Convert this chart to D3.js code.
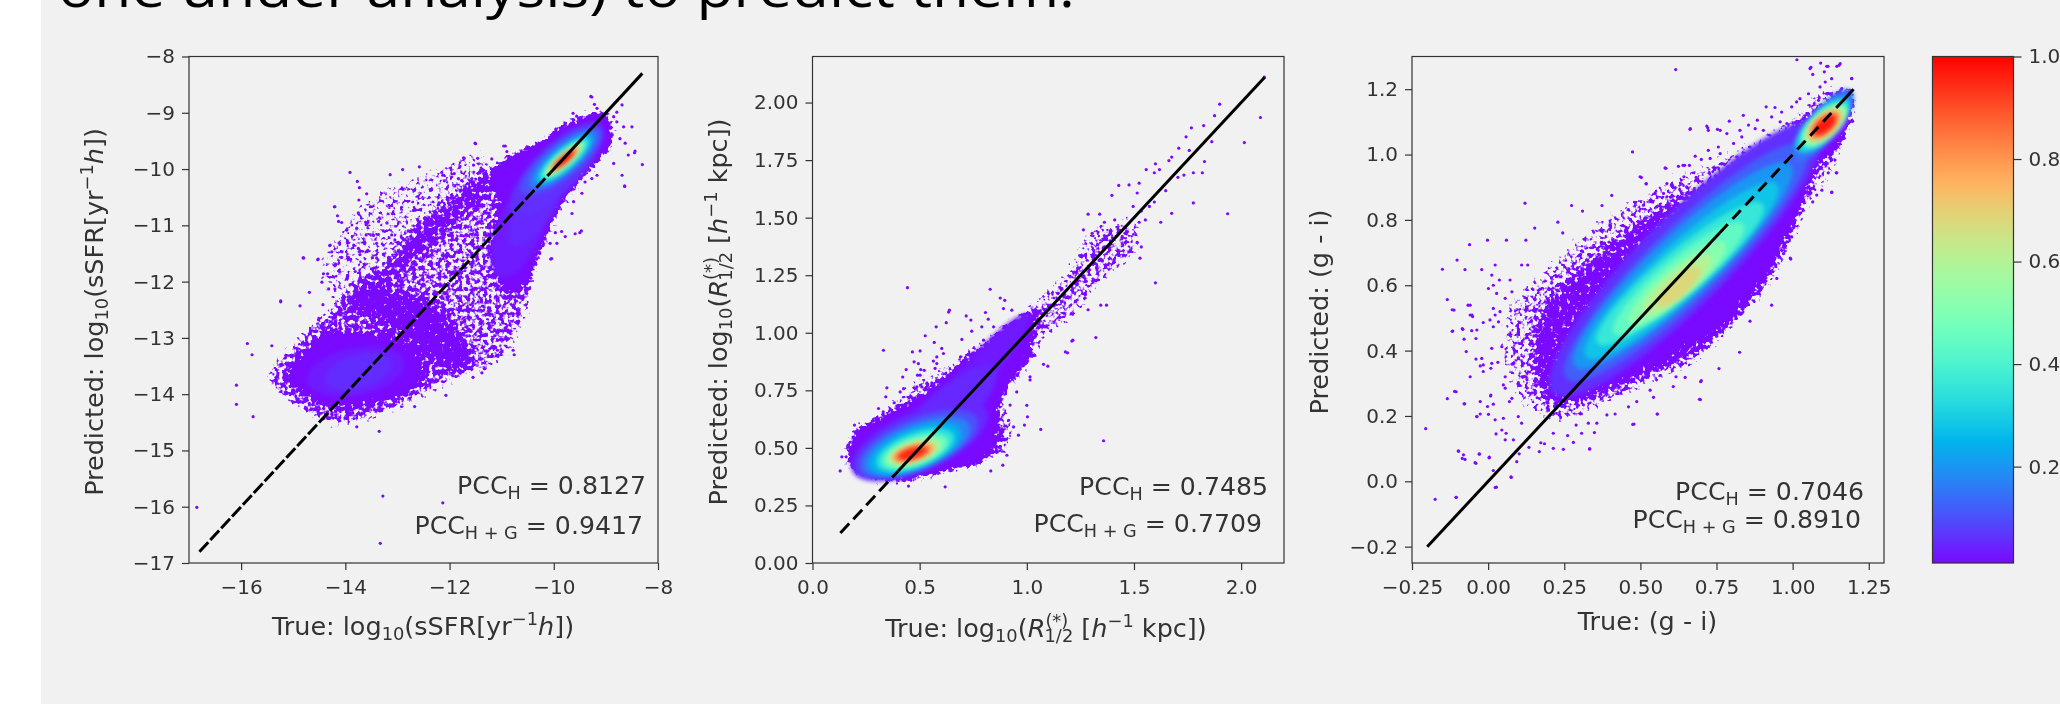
<!DOCTYPE html>
<html><head><meta charset="utf-8">
<script src="https://cdn.jsdelivr.net/npm/d3@7"></script>
<style>html,body{margin:0;padding:0;background:#fff;overflow:hidden}svg{display:block}text{font-family:"DejaVu Sans";fill:#333}</style>
</head><body><svg id="c" width="2060" height="704"></svg>
<script>
// ---- axis domains, ticks
const headline="one under analysis) to predict them.";
const ssfrTicksX=[-16,-14,-12,-10,-8], ssfrTicksY=[-17,-16,-15,-14,-13,-12,-11,-10,-9,-8];
const sizeTicksX=[0,0.5,1,1.5,2], sizeTicksY=[0,0.25,0.5,0.75,1,1.25,1.5,1.75,2];
const colorTicksX=[-0.25,0,0.25,0.5,0.75,1,1.25], colorTicksY=[-0.2,0,0.2,0.4,0.6,0.8,1,1.2];
const barTicks=[0.2,0.4,0.6,0.8,1];
const ssfrPcc=["0.8127","0.9417"], sizePcc=["0.7485","0.7709"], colorPcc=["0.7046","0.8910"];
// ---- scatter points (x,y, flat)
const ssfrPoints=[-13.91,-10.06,-13.77,-10.22,-13.73,-10.33,-13.59,-10.44,-13.74,-10.55,-14.2,-10.67,-13.52,-10.67,-13.75,-10.78,-14.15,-10.83,-14.13,-10.93,-14.07,-10.95,-13.36,-10.93,-13.2,-10.96,-13.6,-10.99,-13.78,-11.05,-13.97,-11.08,-13.27,-11.1,-13.46,-11.18,-13.6,-11.17,-13.11,-11.17,-13.05,-11.26,-14.29,-11.35,-13.84,-11.35,-13.75,-11.41,-13.4,-11.32,-13.27,-11.35,-14.26,-11.47,-14.8,-11.58,-14.52,-11.6,-14.07,-11.57,-13.94,-11.57,-13.72,-11.52,-13.4,-11.58,-13.27,-11.51,-13.17,-11.57,-12.95,-11.52,-14.42,-11.86,-14.34,-11.86,-13.81,-11.82,-13.43,-11.85,-13.27,-11.86,-13.09,-11.79,-13.97,-11.94,-14.45,-12.01,-14.32,-12.13,-14.2,-12.13,-13.49,-12.03,-13.27,-12.0,-14.69,-12.19,-15.24,-12.34,-14.87,-12.43,-14.43,-12.41,
-16.85,-16.01,-13.28,-15.81,-12.13,-15.93,-13.33,-16.65,-16.09,-13.84,-16.09,-14.18,-15.77,-14.4,-15.88,-13.1,-15.79,-13.3,-15.41,-13.14,-15.24,-12.36,-14.81,-11.58,-14.53,-11.61,-14.3,-11.36,-14.21,-10.67,-9.5,-11.13,-10.06,-11.6,-10.44,-11.94,-8.3,-9.92,-8.64,-10.31,-8.45,-9.71,-9.29,-8.71,
-9.27,-8.72,-9.22,-8.85,-9.17,-8.92,-9.63,-9.01,-9.56,-9.06,-8.69,-8.86,-8.79,-8.99,-8.5,-9.25,-8.66,-9.25,-8.79,-9.16,-8.85,-9.07,-8.63,-9.54,-8.44,-9.68,-8.57,-9.75,-8.73,-9.46,-8.85,-9.9,-8.69,-10.11,-8.64,-10.3,-11.51,-9.54,-10.93,-9.59,-10.9,-9.69,-11.72,-9.81,-11.46,-9.81,-11.19,-9.82,-11.54,-9.93,-11.35,-10.02,-11.91,-10.08,-12.13,-10.11,-12.1,-10.21,-11.83,-10.17,-11.57,-10.17,-11.9,-10.3,-11.7,-10.32,-11.45,-10.26,-11.35,-10.38,-9.17,-10.11,-9.27,-10.17,-9.4,-10.23,-9.46,-10.43,-9.62,-10.58,-9.65,-10.79,-9.47,-11.1,-9.59,-11.15,-9.78,-11.2,-9.85,-11.11,-9.97,-11.13,-9.94,-11.32,-10.07,-11.32,-10.04,-11.59,-10.2,-11.35,-10.27,-11.5,-10.33,-11.6,-10.52,-12.21,
-10.87,-12.9,-11.08,-13.22,-10.78,-13.22,-10.76,-13.3,-11.38,-13.62,-11.55,-13.7,-12.07,-14.02,-12.67,-14.22,-13.35,-14.66,-13.78,-14.58,-12.9,-10.01,-12.58,-9.96,-13.14,-10.1,-11.73,-9.8,-11.5,-9.55,-10.96,-9.59];
const sizePoints=[0.443,1.196,0.829,1.189,0.876,1.151,0.897,1.141,0.639,1.098,0.635,1.09,0.717,1.073,0.739,1.055,0.82,1.059,0.807,1.088,0.891,1.105,0.93,1.098,0.577,1.026,0.624,1.044,0.743,1.007,0.79,1.026,0.845,1.026,0.526,0.987,0.568,0.958,0.697,0.971,0.798,0.968,0.331,0.924,0.466,0.917,0.502,0.921,0.603,0.932,0.611,0.91,0.58,0.895,0.564,0.877,0.474,0.874,0.494,0.866,0.505,0.84,0.521,0.837,0.502,0.816,0.49,0.816,0.572,0.845,0.58,0.866,0.437,0.84,0.421,0.808,0.347,0.761,0.342,0.722,0.487,0.765,0.51,0.765,0.533,0.78,0.557,0.782,0.409,0.743,0.425,0.757,0.381,0.696,0.308,0.671,0.33,0.657,
1.0,0.685,1.003,0.635,0.989,0.599,1.065,0.58,1.358,0.531,1.322,0.979,1.19,0.913,1.215,0.968,1.098,0.855,1.078,0.863,1.015,0.809,1.015,0.795,0.953,0.743,0.922,0.686,0.915,0.62,0.938,0.591,0.961,0.555,0.907,0.468,0.888,0.425,0.832,0.4,0.619,0.331,0.448,0.334,0.137,0.461,0.157,0.461,0.129,0.4,0.196,0.599,
2.108,2.11,2.09,1.935,2.015,1.826,1.9,1.993,1.876,1.943,1.825,1.9,1.863,1.83,1.768,1.89,1.743,1.851,1.709,1.802,1.758,1.792,1.829,1.744,1.819,1.695,1.777,1.695,1.733,1.685,1.705,1.675,1.676,1.763,1.663,1.748,1.6,1.734,1.619,1.709,1.595,1.695,1.557,1.709,1.524,1.65,1.477,1.642,1.429,1.64,1.397,1.597,1.515,1.607,1.648,1.617,1.777,1.564,1.937,1.517,1.676,1.519,1.625,1.48,1.595,1.568,1.572,1.549,1.534,1.529,1.496,1.549,1.553,1.49,1.524,1.48,1.286,1.515,1.34,1.515,1.362,1.48,1.41,1.49,1.264,1.447,1.305,1.432,1.362,1.422,1.4,1.412,1.458,1.432,1.515,1.393,1.534,1.373,1.528,1.324,1.6,1.217,1.372,1.12,1.345,1.12,1.286,1.1,1.21,0.964,1.18,0.917];
const colorPoints=[-0.076,0.648,-0.021,0.648,0.012,0.631,0.072,0.616,0.11,0.662,0.13,0.662,0.023,0.662,0.001,0.59,0.017,0.6,0.037,0.616,0.028,0.575,0.078,0.58,0.056,0.56,-0.059,0.539,-0.112,0.524,-0.059,0.509,-0.051,0.504,0.017,0.529,0.039,0.519,0.023,0.509,0.006,0.494,-0.016,0.486,0.034,0.488,0.017,0.473,-0.037,0.463,-0.116,0.46,-0.083,0.465,-0.079,0.435,-0.04,0.437,-0.054,0.461,0.045,0.412,0.012,0.407,-0.072,0.397,-0.04,0.374,-0.021,0.376,-0.016,0.356,-0.026,0.353,0.012,0.361,0.032,0.364,0.009,0.346,-0.016,0.336,-0.059,0.32,0.05,0.295,0.056,0.32,0.056,0.285,-0.105,0.274,0.009,0.264,-0.079,0.237,-0.026,0.244,0.017,0.236,-0.002,0.229,0.07,0.244,0.078,0.254,-0.026,0.206,-0.037,0.198,0.001,0.205,0.023,0.188,0.05,0.193,0.099,0.198,0.11,0.178,0.045,0.157,0.059,0.147,0.026,0.145,0.056,0.127,0.083,0.127,-0.098,0.093,-0.081,0.081,-0.076,0.067,-0.029,0.084,-0.043,0.057,0.004,0.074,0.017,0.033,0.075,0.014,0.023,-0.019,-0.105,-0.049,0.094,0.06,0.102,0.084,0.134,0.104,0.168,0.091,0.173,0.118,0.185,0.115,0.214,0.147,0.214,0.101,0.247,0.098,0.28,0.119,0.261,0.14,0.333,0.099,0.307,0.147,0.349,0.149,0.289,0.172,0.357,0.178,0.329,0.178,0.475,0.174,0.556,0.206,0.694,0.251,0.417,0.206,0.39,0.203,0.313,0.234,0.461,0.228,0.488,0.244,0.543,0.257,0.608,0.29,0.532,0.279,0.647,0.318,0.698,0.305,0.617,0.32,
-0.205,0.161,-0.174,-0.055,-0.105,-0.049,-0.097,0.092,-0.085,0.07,-0.04,0.055,-0.029,0.083,0.003,0.072,0.027,-0.018,0.076,0.012,-0.134,0.253,-0.11,0.275,-0.077,0.237,-0.037,0.198,0.008,0.261,-0.15,0.649,-0.102,0.677,-0.134,0.556,-0.118,0.525,-0.118,0.459,-0.085,0.467,-0.066,0.539,-0.053,0.509,-0.061,0.724,-0.002,0.738,0.06,0.738,0.121,0.851,0.153,0.775,0.124,0.738,0.229,0.793,0.245,0.76,0.274,0.844,0.31,0.827,0.374,0.844,0.406,0.875,0.474,1.008,0.616,1.26,1.014,1.29,1.092,1.28,1.152,1.273,1.116,1.27,1.06,1.267,1.194,1.233,1.197,1.102,0.664,1.079,0.721,1.082,0.753,1.077,0.584,0.958,0.64,0.967,0.503,0.93,0.519,0.91,1.129,0.885,1.143,0.944,1.06,0.882,0.992,0.683,0.931,0.539,0.86,0.49,0.826,0.395,0.758,0.345,0.697,0.25,0.7,0.308,0.555,0.206,0.479,0.175,0.334,0.099,
0.663,1.077,0.718,1.087,0.723,1.074,0.762,1.074,0.792,1.102,0.838,1.12,0.884,1.105,0.913,1.146,0.942,1.144,0.964,1.13,0.997,1.146,1.013,1.161,1.024,1.171,1.052,1.186,1.09,1.207,1.107,1.222,1.128,1.232,1.156,1.278,1.145,1.27,1.112,1.27,1.057,1.263,1.066,1.245,1.104,1.253,1.194,1.232,1.194,1.102,1.161,1.202,1.112,1.186,1.085,1.166,0.981,1.095,0.959,1.1,0.931,1.115,0.904,1.074,0.877,1.079,0.855,1.09,0.827,1.074,0.833,1.054,0.806,1.034,0.784,1.064,0.756,1.023,0.762,1.003,0.723,1.013,0.729,0.988,0.68,0.995,0.7,0.985,0.625,0.964,0.645,0.967,0.661,0.967,0.581,0.959,0.767,0.972,0.643,0.932,0.683,0.93,0.519,0.911,0.587,0.911,0.614,0.899,0.532,0.86,0.548,0.881,0.499,0.932,0.51,0.845,0.576,0.881,0.598,0.87,0.636,0.881,0.652,0.901,0.7,0.901,0.723,0.911,0.751,0.932,0.789,0.962,0.816,0.993,0.86,0.983,0.888,1.003,0.915,0.993,0.795,0.932,0.827,0.962,0.871,0.942,0.91,1.034,0.86,1.023,
1.145,0.944,1.117,0.944,1.128,0.884,1.096,0.891,1.079,0.876,1.066,0.855,1.024,0.835,1.008,0.799,1.003,0.777,0.997,0.748,0.994,0.68,0.97,0.697,0.948,0.621,1.139,0.983,1.112,0.972,1.145,1.023,1.068,0.932,1.046,0.921,1.052,0.901,1.024,0.891,0.992,0.86,0.981,0.82,0.959,0.748,0.981,0.733,0.937,0.707,0.937,0.789];
// ---- outlines of the crowded regions, each with how thickly the dots fill it (first number)
const ssfrClouds=[
[0.4,[[-14.5,-11.9],[-14.1,-11],[-13.4,-10.4],[-12.4,-10],[-11.4,-9.7],[-11.2,-10.3],[-12,-11],[-13,-11.9],[-13.9,-12.6]]],
[0.5,[[-13.9,-12.2],[-13.2,-11.7],[-12.6,-11.0],[-11.9,-10.5],[-11.2,-10.0],[-10.7,-10.2],[-10.4,-12],[-10.7,-13],[-11.3,-13.6],[-12.2,-13.5],[-13,-12.9]]],
[0.54,[[-15.5,-13.7],[-15,-13.1],[-14.5,-12.6],[-13.5,-12.2],[-12.5,-12.3],[-11.9,-12.8],[-11.6,-13.5],[-12.2,-13.9],[-13.2,-14.35],[-14.2,-14.55],[-15,-14.2]]],
[1,[[-14.93,-13.45],[-14.35,-12.98],[-13.47,-12.98],[-12.95,-13.15],[-12.5,-13.57],[-12.82,-13.92],[-13.47,-14.1],[-14.1,-14.2],[-14.74,-13.98],[-15.06,-13.69]]],
[1,[[-8.98,-9.0],[-8.9,-9.2],[-8.86,-9.48],[-9.11,-9.84],[-9.44,-10.14],[-9.69,-10.43],[-9.94,-10.78],[-10.07,-11.08],[-10.26,-11.44],[-10.45,-11.9],[-10.8,-12.2],[-11.1,-11.8],[-11.1,-11.2],[-11.0,-10.6],[-11.15,-10.0],[-10.65,-9.66],[-10.26,-9.52],[-9.88,-9.25],[-9.5,-9.07],[-9.17,-9.0]]]];
const sizeClouds=[
[0.47,[[0.95,1.03],[1.05,1.15],[1.18,1.27],[1.3,1.45],[1.42,1.48],[1.5,1.5],[1.52,1.35],[1.4,1.25],[1.3,1.15],[1.2,1.05],[1.1,0.98],[1.0,0.88],[0.92,0.78]]],
[0.54,[[0.8,0.45],[0.92,0.5],[0.93,0.6],[0.9,0.72],[0.95,0.8],[1.05,0.9],[0.95,0.95],[0.8,0.8],[0.75,0.6]]],
[0.42,[[0.3,0.63],[0.42,0.75],[0.55,0.85],[0.62,0.85],[0.75,0.95],[0.8,0.9],[0.55,0.7]]],
[1,[[0.16,0.46],[0.19,0.564],[0.285,0.62],[0.41,0.664],[0.534,0.737],[0.642,0.824],[0.75,0.91],[0.86,1.0],[0.97,1.07],[1.04,1.1],[1.02,1.0],[0.97,0.87],[0.88,0.74],[0.84,0.64],[0.85,0.55],[0.8,0.45],[0.78,0.434],[0.595,0.39],[0.44,0.36],[0.315,0.36],[0.22,0.39],[0.175,0.417]]]];
const colorClouds=[
[0.44,[[0.13,0.22],[0.05,0.36],[0.07,0.55],[0.15,0.62],[0.3,0.75],[0.45,0.85],[0.65,0.95],[0.85,1.03],[1.0,1.12],[1.1,1.2],[1.2,1.2],[1.16,1.0],[1.05,0.83],[0.98,0.68],[0.9,0.57],[0.8,0.47],[0.7,0.37],[0.55,0.3],[0.4,0.24],[0.25,0.18]]],
[0.52,[[0.2,0.25],[0.15,0.4],[0.2,0.55],[0.35,0.68],[0.55,0.82],[0.75,0.92],[0.95,1.03],[1.1,1.15],[1.15,1.1],[1.0,0.85],[0.92,0.62],[0.75,0.44],[0.55,0.34],[0.35,0.26]]],
[1,[[0.253,0.264],[0.318,0.429],[0.35,0.539],[0.447,0.635],[0.576,0.759],[0.689,0.841],[0.786,0.896],[0.898,0.951],[1.011,1.047],[1.092,1.116],[1.156,1.185],[1.197,1.185],[1.189,1.116],[1.148,1.033],[1.076,0.965],[1.043,0.896],[1.011,0.814],[0.963,0.731],[0.914,0.662],[0.834,0.566],[0.753,0.484],[0.656,0.429],[0.544,0.374],[0.414,0.319],[0.318,0.291]]]];
// ---- density blobs: [cx, cy, half length, half width, tilt in degrees, colour value]
const ssfrBlobs=[[-13.8,-13.6,0.95,0.42,10,0.035],[-13.75,-13.6,0.65,0.3,15,0.055],[-10.65,-11.05,0.95,0.42,65,0.035],[-10.35,-10.7,0.8,0.32,55,0.05],[-9.95,-10.0,1.15,0.42,42,0.06],[-9.85,-9.85,0.95,0.32,36,0.1],[-9.82,-9.83,0.8,0.26,37,0.16],[-9.8,-9.83,0.68,0.22,38,0.24],[-9.8,-9.83,0.6,0.185,38,0.32],[-9.8,-9.83,0.52,0.155,38,0.42],[-9.8,-9.83,0.46,0.13,38,0.52],[-9.8,-9.83,0.41,0.11,38,0.62],[-9.8,-9.83,0.36,0.09,38,0.72],[-9.8,-9.83,0.31,0.075,38,0.82],[-9.8,-9.83,0.26,0.06,38,0.92],[-9.8,-9.83,0.2,0.045,38,1.0]];
const sizeBlobs=[[0.75,0.8,0.38,0.07,47,0.03],[0.62,0.65,0.3,0.1,40,0.05],[0.5,0.53,0.34,0.13,22,0.05],[0.49,0.515,0.3,0.115,21,0.1],[0.485,0.505,0.265,0.1,20,0.17],[0.48,0.495,0.225,0.09,20,0.25],[0.48,0.49,0.19,0.075,19,0.35],[0.48,0.485,0.16,0.062,18,0.45],[0.475,0.482,0.135,0.052,17,0.55],[0.472,0.48,0.115,0.045,16,0.65],[0.47,0.478,0.1,0.037,15,0.75],[0.468,0.477,0.085,0.03,15,0.85],[0.465,0.476,0.065,0.023,15,0.95]];
const colorBlobs=[[0.65,0.68,0.6,0.14,43,0.06],[0.65,0.67,0.53,0.115,42,0.12],[0.64,0.66,0.47,0.098,41,0.2],[0.635,0.645,0.41,0.083,40,0.28],[0.63,0.635,0.345,0.07,38,0.36],[0.625,0.62,0.27,0.06,38,0.44],[0.62,0.605,0.2,0.05,38,0.52],[0.62,0.6,0.14,0.04,38,0.6],[0.625,0.595,0.09,0.03,40,0.68],[1.1,1.09,0.14,0.05,48,0.15],[1.1,1.09,0.115,0.048,42,0.3],[1.105,1.09,0.095,0.045,40,0.42],[1.105,1.09,0.085,0.04,38,0.55],[1.105,1.09,0.07,0.036,38,0.68],[1.105,1.09,0.06,0.03,38,0.78],[1.105,1.09,0.05,0.024,38,0.88],[1.105,1.09,0.04,0.018,38,0.97]];
// ---- reference line pieces: [from, to, dashed?]
const ssfrLine=[[-16.8,-10.06,1],[-10.06,-8.3,0]];
const sizeLine=[[0.13,0.4,1],[0.4,2.11,0]];
const colorLine=[[-0.2,0.76,0],[0.76,1.145,1],[1.145,1.2,0]];

// ---- matplotlib "rainbow" colormap
const rainbow=t=>{const c=v=>Math.round(255*Math.min(1,Math.max(0,v)));return `rgb(${c(Math.abs(2*t-0.5))},${c(Math.sin(Math.PI*t))},${c(Math.cos(Math.PI*t/2))})`;};
const svg=d3.select("#c");
const defs=svg.append("defs");
const full=(id)=>defs.append("filter").attr("id",id).attr("filterUnits","userSpaceOnUse").attr("x",0).attr("y",0).attr("width",2060).attr("height",704).attr("color-interpolation-filters","sRGB");
full("soft").append("feGaussianBlur").attr("stdDeviation",0.6);
full("blur").append("feGaussianBlur").attr("stdDeviation",2.2);
// dotted texture for the crowded regions: the thicker the outline's fill, the more of it is covered
const sp=full("speck");
sp.append("feGaussianBlur").attr("in","SourceAlpha").attr("stdDeviation",5).attr("result","a");
sp.append("feTurbulence").attr("type","fractalNoise").attr("baseFrequency",0.24).attr("numOctaves",2).attr("seed",7).attr("result","t");
sp.append("feColorMatrix").attr("in","t").attr("values","0 0 0 0 0 0 0 0 0 0 0 0 0 0 0 0 0 0 1 0").attr("result","n");
sp.append("feComposite").attr("in","a").attr("in2","n").attr("operator","arithmetic").attr("k1",0).attr("k2",0.5).attr("k3",0.5).attr("k4",0).attr("result","s");
sp.append("feComponentTransfer").attr("in","s").attr("result","m").append("feFuncA").attr("type","linear").attr("slope",14).attr("intercept",-6.5);
sp.append("feFlood").attr("flood-color",rainbow(0.012)).attr("result","f");
sp.append("feComposite").attr("in","f").attr("in2","m").attr("operator","in");

svg.append("rect").attr("x",41).attr("y",0).attr("width",2019).attr("height",704).attr("fill","#f1f1f1");
const root=svg.append("g").attr("filter","url(#soft)");
root.append("text").attr("x",58).attr("y",7).attr("textLength",1017).attr("lengthAdjust","spacingAndGlyphs").style("font-family","'Open Sans'").style("font-size","54px").style("fill","#000").text(headline);

const plotTop=56.5,plotBot=563;
// text with plain / sub / sup / italic pieces
function rich(x,y,anchor,size,segs,rot){
  const g=root.append("g").attr("transform",rot?`translate(${x},${y}) rotate(-90)`:`translate(${x},${y})`);
  const t=g.append("text").attr("text-anchor",anchor).style("font-size",size+"px");
  let shift=0;
  segs.forEach(s=>{
    const k=s[1]||"n",want=k==="sub"?0.2:k==="sup"?-0.4:0,fs=(k==="sub"||k==="sup")?0.7:1;
    const ts=t.append("tspan").text(s[0]).style("font-size",(size*fs)+"px").attr("dy",(want-shift)*size);
    if(s[2]) ts.attr("dx",s[2]*size);
    if(k==="it") ts.style("font-style","italic");
    shift=want;
  });
}
const pcc=(sub,val)=>[["PCC"],[sub,"sub"],[" = "+val]];
function panel(o){
  const x=d3.scaleLinear().domain(o.dom).range([o.l,o.r]);
  const y=d3.scaleLinear().domain(o.dom).range([plotBot,plotTop]);
  const id="clip"+Math.round(o.l);
  defs.append("clipPath").attr("id",id).append("rect").attr("x",o.l).attr("y",plotTop).attr("width",o.r-o.l).attr("height",plotBot-plotTop);
  const g=root.append("g").attr("clip-path",`url(#${id})`);
  const area=d3.line().x(d=>x(d[0])).y(d=>y(d[1])).curve(d3.curveCatmullRomClosed);
  const cg=g.append("g").attr("filter","url(#speck)");
  o.clouds.forEach(c=>cg.append("path").attr("d",area(c[1])).attr("fill","#000").attr("fill-opacity",c[0]));
  const pts=d3.range(0,o.pts.length,2).map(i=>[o.pts[i],o.pts[i+1]]);
  g.append("g").selectAll("circle").data(pts).join("circle").attr("cx",d=>x(d[0])).attr("cy",d=>y(d[1])).attr("r",1.6).attr("fill",rainbow(0.012));
  const bl=g.append("g").attr("filter","url(#blur)");
  const angles=d3.range(0,360,12).map(a=>a*Math.PI/180);
  o.blobs.forEach(b=>{
    const th=b[4]*Math.PI/180;
    const ring=angles.map(t=>[b[0]+b[2]*Math.cos(t)*Math.cos(th)-b[3]*Math.sin(t)*Math.sin(th),b[1]+b[2]*Math.cos(t)*Math.sin(th)+b[3]*Math.sin(t)*Math.cos(th)]);
    bl.append("path").attr("d",area(ring)).attr("fill",rainbow(b[5]));
  });
  o.line.forEach(s=>{
    g.append("line").attr("x1",x(s[0])).attr("y1",y(s[0])).attr("x2",x(s[1])).attr("y2",y(s[1])).attr("stroke","#000").attr("stroke-width",3).attr("stroke-dasharray",s[2]?o.dash:null);
  });
  root.append("rect").attr("x",o.l).attr("y",plotTop).attr("width",o.r-o.l).attr("height",plotBot-plotTop).attr("fill","none").attr("stroke","#333").attr("stroke-width",1.2);
  const ax=root.append("g").attr("transform",`translate(0,${plotBot})`).call(d3.axisBottom(x).tickValues(o.tx).tickFormat(o.fx).tickSize(7).tickPadding(10));
  const ay=root.append("g").attr("transform",`translate(${o.l},0)`).call(d3.axisLeft(y).tickValues(o.ty).tickFormat(o.fy).tickSize(7).tickPadding(7));
  [ax,ay].forEach(a=>{a.select(".domain").remove();a.selectAll("line").attr("stroke","#333").attr("stroke-width",1.2);
    a.selectAll("text").style("font-size","20px").style("font-family","'DejaVu Sans'").style("fill","#333");});
  rich(o.xl[0],o.xl[1],"middle",25.5,o.xlab);
  rich(o.yl[0],o.yl[1],"middle",25.5,o.ylab,true);
  rich(o.p1[0],o.p1[1],"end",25.2,pcc("H",o.pcc[0]));
  rich(o.p2[0],o.p2[1],"end",25.2,pcc("H + G",o.pcc[1]));
}
const ssfrLab=p=>[[p+": log"],["10","sub"],["(sSFR[yr"],["−1","sup"],["h","it"],["])"]];
const sizeLab=p=>[[p+": log"],["10","sub"],["("],["R","it"],["(*)","sup"],["1/2","sub",-0.93],[" ["],["h","it"],["−1","sup"],[" kpc])"]];
panel({dom:[-17,-8],l:189,r:658,pts:ssfrPoints,clouds:ssfrClouds,blobs:ssfrBlobs,line:ssfrLine,dash:"13,3",tx:ssfrTicksX,ty:ssfrTicksY,fx:d3.format("d"),fy:d3.format("d"),xl:[423,635],yl:[103,312],p1:[646,494],p2:[643,534],pcc:ssfrPcc,xlab:ssfrLab("True"),ylab:ssfrLab("Predicted")});
panel({dom:[0,2.2],l:812.5,r:1284,pts:sizePoints,clouds:sizeClouds,blobs:sizeBlobs,line:sizeLine,dash:"13,6",tx:sizeTicksX,ty:sizeTicksY,fx:d3.format(".1f"),fy:d3.format(".2f"),xl:[1046,637],yl:[727,312],p1:[1268,495],p2:[1262,532],pcc:sizePcc,xlab:sizeLab("True"),ylab:sizeLab("Predicted")});
panel({dom:[-0.25,1.3],l:1412,r:1884,pts:colorPoints,clouds:colorClouds,blobs:colorBlobs,line:colorLine,dash:"12,7",tx:colorTicksX,ty:colorTicksY,fx:d3.format(".2f"),fy:d3.format(".1f"),xl:[1647.5,630],yl:[1328,312],p1:[1864,500],p2:[1861,528],pcc:colorPcc,xlab:[["True: (g - i)"]],ylab:[["Predicted: (g - i)"]]});
// colour bar
const grad=defs.append("linearGradient").attr("id","bar").attr("x1",0).attr("x2",0).attr("y1",1).attr("y2",0);
d3.range(0,1.0001,0.02).forEach(t=>grad.append("stop").attr("offset",t).attr("stop-color",rainbow(0.012+t*0.988)));
const cb=d3.scaleLinear().domain([0.012,1]).range([plotBot,plotTop]);
root.append("rect").attr("x",1932.5).attr("y",plotTop).attr("width",81).attr("height",plotBot-plotTop).attr("fill","url(#bar)").attr("stroke","#333").attr("stroke-width",1.2);
const ac=root.append("g").attr("transform","translate(2013.5,0)").call(d3.axisRight(cb).tickValues(barTicks).tickFormat(d3.format(".1f")).tickSize(8).tickPadding(7));
ac.select(".domain").remove();ac.selectAll("line").attr("stroke","#333").attr("stroke-width",1.2);
ac.selectAll("text").style("font-size","20px").style("font-family","'DejaVu Sans'").style("fill","#333");
</script></body></html>
